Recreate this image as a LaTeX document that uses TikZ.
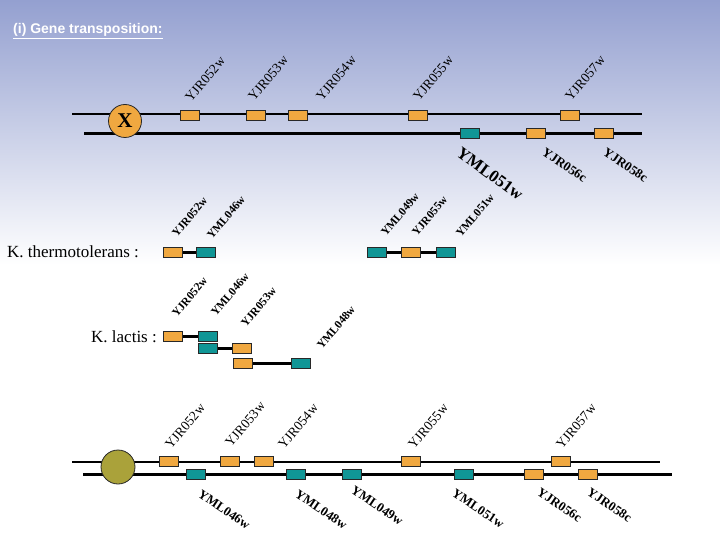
\documentclass[tikz,border=0pt]{standalone}
\usepackage{fontspec}
\setmainfont{Liberation Serif}
\newfontfamily\titlefont{Liberation Sans}
\definecolor{gorange}{RGB}{240,168,64}
\definecolor{gteal}{RGB}{16,150,150}
\definecolor{golive}{RGB}{170,162,58}
\definecolor{bgtop}{RGB}{148,160,208}
\definecolor{edge}{RGB}{40,40,40}
\begin{document}
\begin{tikzpicture}[x=1pt,y=-1pt,
  gbox/.style={rectangle,draw=edge,line width=0.8pt,minimum width=19pt,minimum height=10pt,inner sep=0pt},
  og/.style={gbox,fill=gorange},
  tg/.style={gbox,fill=gteal},
  chrA/.style={line width=2pt,black},
  chrB/.style={line width=3pt,black},
  link/.style={line width=3pt,black},
  lup/.style={rotate=50,anchor=base west,inner sep=0pt,font=\fontsize{13.5}{13.5}\selectfont},
  ldn/.style={rotate=-34,anchor=north west,inner sep=0pt,font=\bfseries\fontsize{13}{13}\selectfont},
  lsm/.style={rotate=50,anchor=base west,inner sep=0pt,font=\bfseries\fontsize{11.5}{11.5}\selectfont},
  spec/.style={anchor=base west,inner sep=0pt,font=\fontsize{17}{17}\selectfont}
]
% background
\fill[top color=bgtop,bottom color=white] (0,0) rectangle (720,265);
\fill[white] (0,265) rectangle (720,540);
\useasboundingbox (0,0) rectangle (720,540);

% title
\node[anchor=base west,inner sep=0pt,text=white,font=\titlefont\bfseries\fontsize{14}{14}\selectfont] (title) at (13,34) {\underline{(i) Gene transposition:}};

% ---------- top chromosome ----------
\coordinate (tA1) at (72,114);
\coordinate (tA2) at (642,114);
\coordinate (tB1) at (84,134);
\coordinate (tB2) at (642,134);
\draw[chrA] (tA1) -- (tA2);
\draw[chrB] (tB1) -- (tB2);
\node[circle,draw=edge,line width=0.8pt,fill=gorange,minimum size=33pt,inner sep=0pt,font=\bfseries\fontsize{21}{21}\selectfont] (X) at (125,121) {X};

\node[og] (t52) at (190,115) {};
\node[og] (t53) at (256,115) {};
\node[og] (t54) at (298,115) {};
\node[og] (t55) at (418,115) {};
\node[og] (t57) at (570,115) {};
\node[tg] (tM51) at (470,133) {};
\node[og] (t56) at (536,133) {};
\node[og] (t58) at (604,133) {};

\node[lup] (lt52) at (191,103) {YJR052w};
\node[lup] (lt53) at (254,102) {YJR053w};
\node[lup] (lt54) at (322,102) {YJR054w};
\node[lup] (lt55) at (419,102) {YJR055w};
\node[lup] (lt57) at (571,102) {YJR057w};
\node[rotate=-36,anchor=north west,inner sep=0pt,font=\bfseries\fontsize{17}{17}\selectfont] (ltM51) at (462,146) {YML051w};
\node[ldn] (lt56) at (546,147) {YJR056c};
\node[ldn] (lt58) at (607,147) {YJR058c};

% ---------- K. thermotolerans ----------
\node[spec] (kt) at (7,258) {K. thermotolerans :};
\node[og] (k1a) at (173,252) {};
\node[tg] (k1b) at (206,252) {};
\draw[link] (k1a.east) -- (k1b.west);
\node[lsm] (lk1a) at (177,238) {YJR052w};
\node[lsm] (lk1b) at (212,240) {YML046w};

\node[tg] (k2a) at (377,252) {};
\node[og] (k2b) at (411,252) {};
\node[tg] (k2c) at (446,252) {};
\draw[link] (k2a.east) -- (k2b.west);
\draw[link] (k2b.east) -- (k2c.west);
\node[lsm] (lk2a) at (386,237) {YML049w};
\node[lsm] (lk2b) at (417,237) {YJR055w};
\node[lsm] (lk2c) at (461,238) {YML051w};

% ---------- K. lactis ----------
\node[spec] (kl) at (91,342) {K. lactis :};
\node[og] (l1a) at (173,336) {};
\node[tg] (l1b) at (208,336) {};
\draw[link] (l1a.east) -- (l1b.west);
\node[tg] (l2a) at (208,348) {};
\node[og] (l2b) at (242,348) {};
\draw[link] (l2a.east) -- (l2b.west);
\node[og] (l3a) at (243,363) {};
\node[tg] (l3b) at (301,363) {};
\draw[link] (l3a.east) -- (l3b.west);
\node[lsm] (ll1) at (177,318) {YJR052w};
\node[lsm] (ll2) at (216,317) {YML046w};
\node[lsm] (ll3) at (246,328) {YJR053w};
\node[lsm] (ll4) at (322,350) {YML048w};

% ---------- bottom chromosome ----------
\coordinate (bA1) at (72,462);
\coordinate (bA2) at (660,462);
\coordinate (bB1) at (83,474);
\coordinate (bB2) at (672,474);
\draw[chrA] (bA1) -- (bA2);
\draw[chrB] (bB1) -- (bB2);
\node[circle,draw=edge,line width=0.8pt,fill=golive,minimum size=34pt,inner sep=0pt] (O) at (118,467) {};

\node[og] (b52) at (169,461) {};
\node[og] (b53) at (230,461) {};
\node[og] (b54) at (264,461) {};
\node[og] (b55) at (411,461) {};
\node[og] (b57) at (561,461) {};
\node[tg] (bM46) at (196,474) {};
\node[tg] (bM48) at (296,474) {};
\node[tg] (bM49) at (352,474) {};
\node[tg] (bM51) at (464,474) {};
\node[og] (b56) at (534,474) {};
\node[og] (b58) at (588,474) {};

\node[lup] (lb52) at (171,450) {YJR052w};
\node[lup] (lb53) at (231,448) {YJR053w};
\node[lup] (lb54) at (284,450) {YJR054w};
\node[lup] (lb55) at (414,450) {YJR055w};
\node[lup] (lb57) at (562,450) {YJR057w};
\node[ldn] (lbM46) at (202,489) {YML046w};
\node[ldn] (lbM48) at (299,489) {YML048w};
\node[ldn] (lbM49) at (355,485) {YML049w};
\node[ldn] (lbM51) at (456,488) {YML051w};
\node[ldn] (lb56) at (541,487) {YJR056c};
\node[ldn] (lb58) at (591,487) {YJR058c};
\end{tikzpicture}
\end{document}
